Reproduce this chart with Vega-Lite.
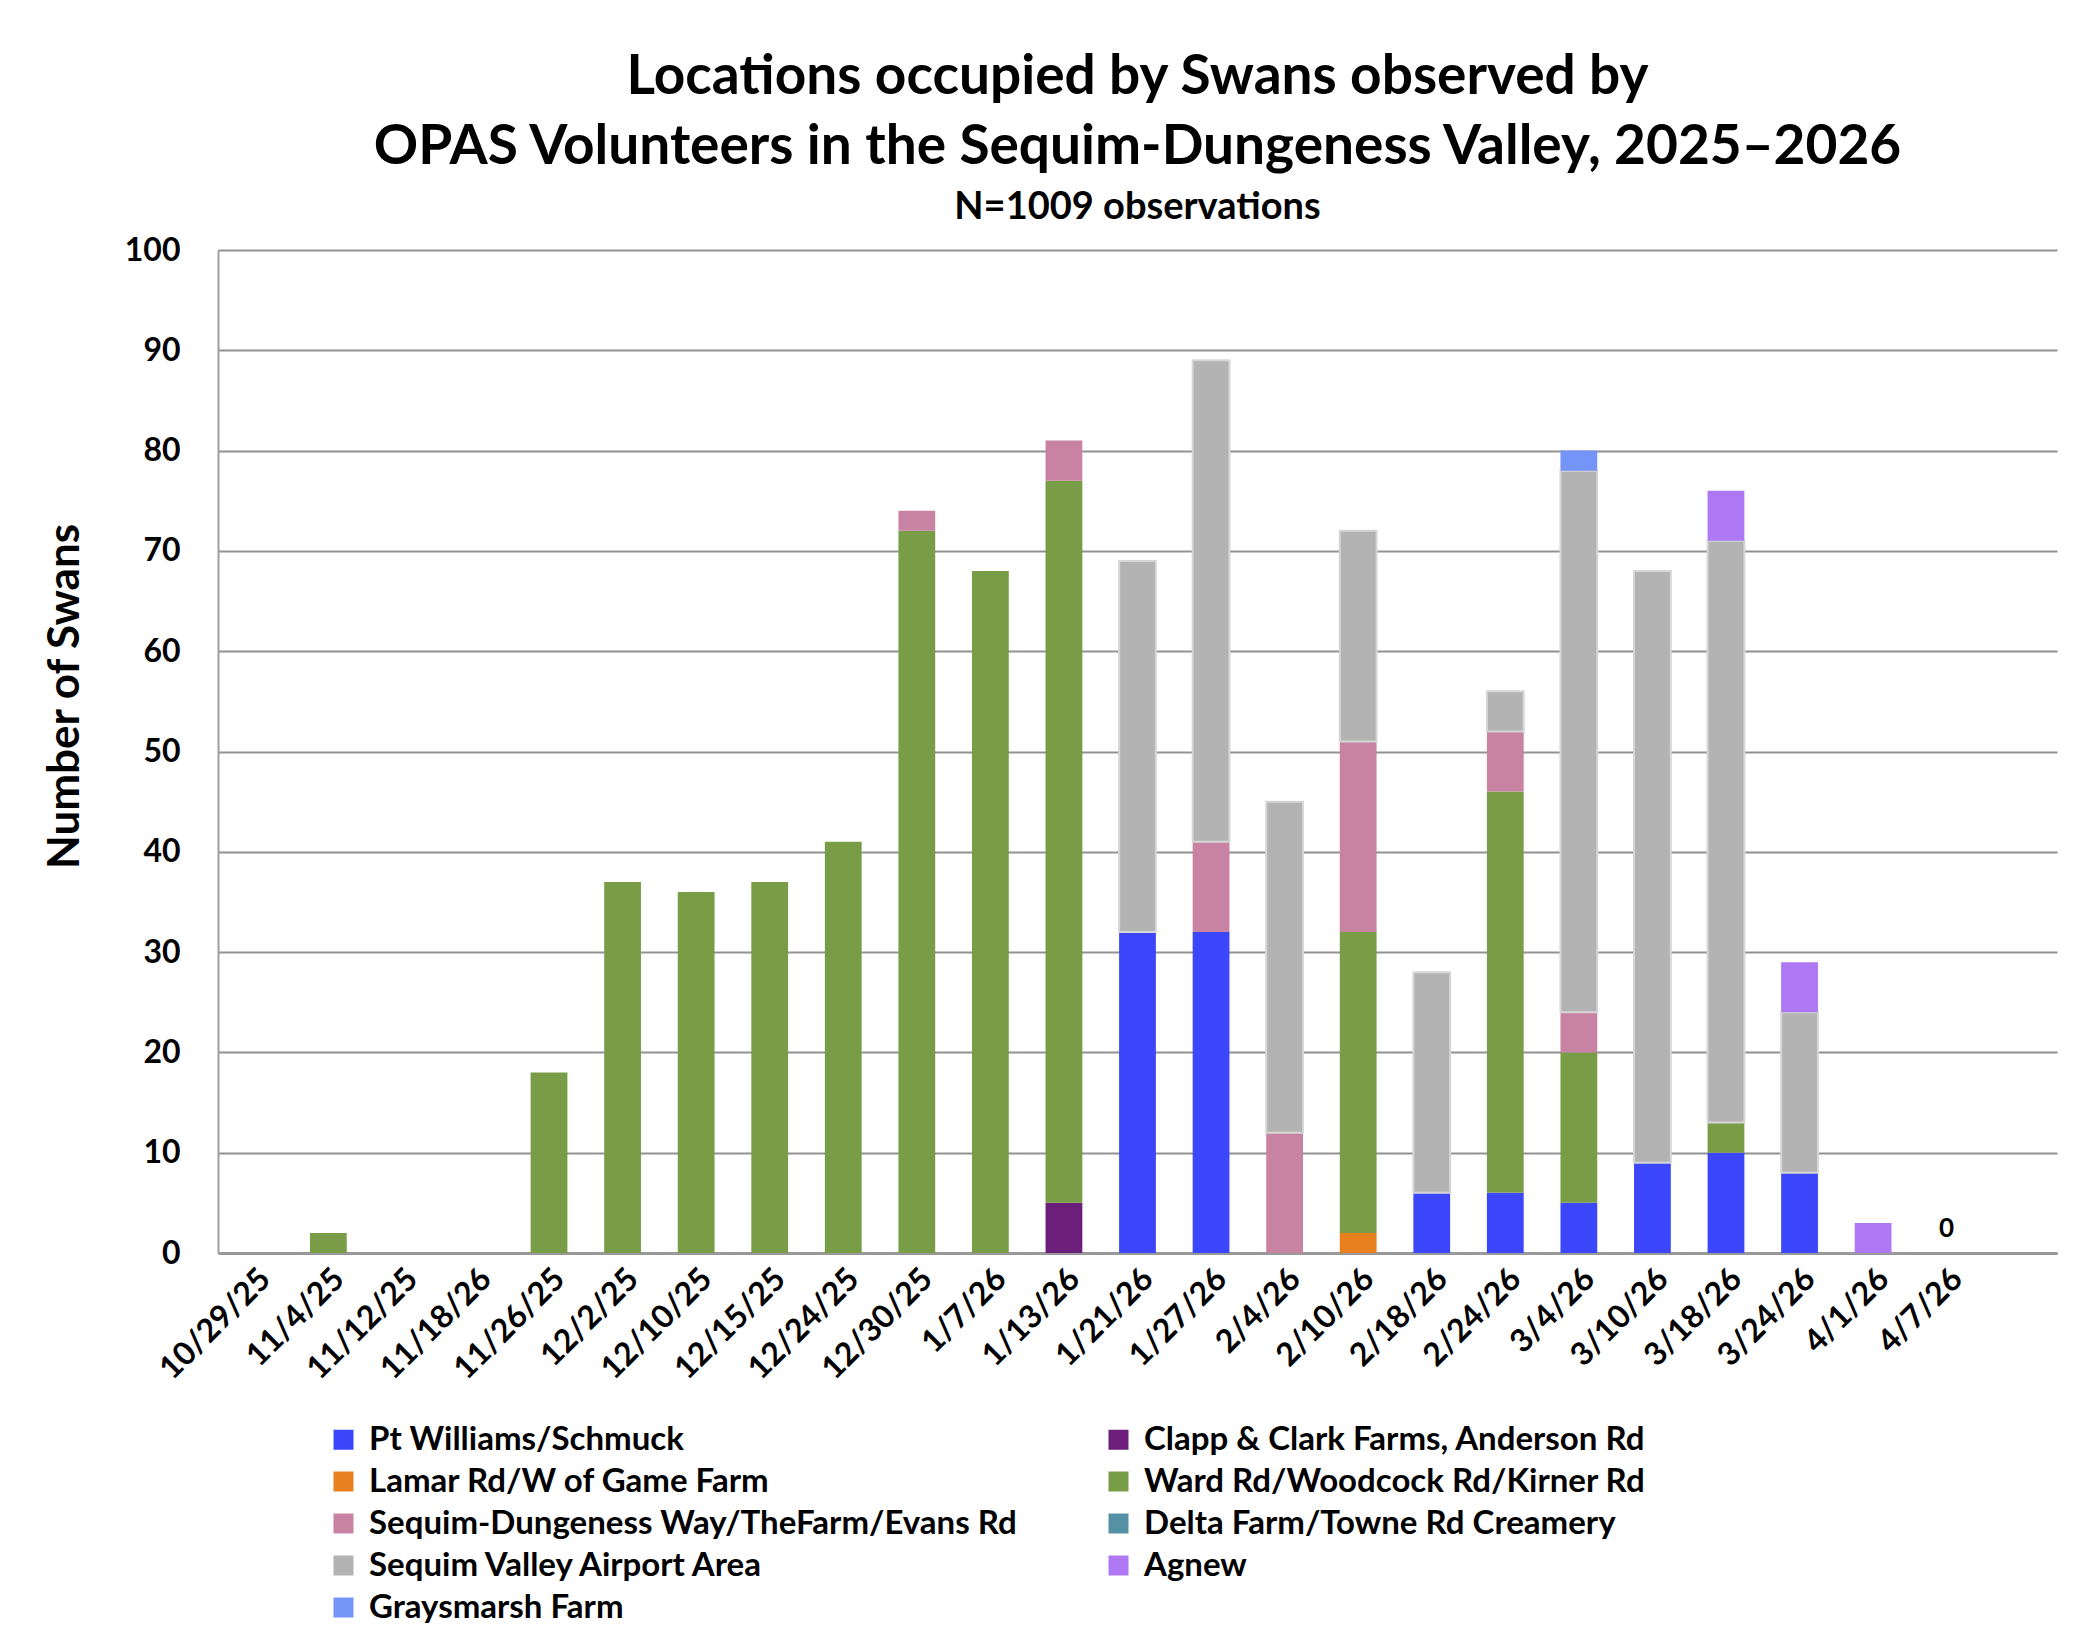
{
  "$schema": "https://vega.github.io/schema/vega-lite/v6.json",
  "autosize": "none",
  "width": 1839,
  "height": 1003,
  "padding": {"left": 218, "top": 250, "right": 43, "bottom": 388},
  "background": "white",
  "title": {
    "text": ["Locations occupied by Swans observed by", "OPAS Volunteers in the Sequim-Dungeness Valley, 2025–2026"],
    "subtitle": "N=1009 observations",
    "anchor": "middle",
    "font": "Lato",
    "fontSize": 55,
    "fontWeight": "bold",
    "lineHeight": 70,
    "subtitleFont": "Lato",
    "subtitleFontSize": 38,
    "subtitleFontWeight": "bold",
    "subtitleColor": "black",
    "subtitlePadding": 13,
    "color": "black",
    "offset": 6
  },
  "data": {
    "values": [
      {"Date": "11/4/25", "Location": "Ward Rd/Woodcock Rd/Kirner Rd", "Count": 2},
      {"Date": "11/26/25", "Location": "Ward Rd/Woodcock Rd/Kirner Rd", "Count": 18},
      {"Date": "12/2/25", "Location": "Ward Rd/Woodcock Rd/Kirner Rd", "Count": 37},
      {"Date": "12/10/25", "Location": "Ward Rd/Woodcock Rd/Kirner Rd", "Count": 36},
      {"Date": "12/15/25", "Location": "Ward Rd/Woodcock Rd/Kirner Rd", "Count": 37},
      {"Date": "12/24/25", "Location": "Ward Rd/Woodcock Rd/Kirner Rd", "Count": 41},
      {"Date": "12/30/25", "Location": "Ward Rd/Woodcock Rd/Kirner Rd", "Count": 72},
      {"Date": "12/30/25", "Location": "Sequim-Dungeness Way/TheFarm/Evans Rd", "Count": 2},
      {"Date": "1/7/26", "Location": "Ward Rd/Woodcock Rd/Kirner Rd", "Count": 68},
      {"Date": "1/13/26", "Location": "Clapp & Clark Farms, Anderson Rd", "Count": 5},
      {"Date": "1/13/26", "Location": "Ward Rd/Woodcock Rd/Kirner Rd", "Count": 72},
      {"Date": "1/13/26", "Location": "Sequim-Dungeness Way/TheFarm/Evans Rd", "Count": 4},
      {"Date": "1/21/26", "Location": "Pt Williams/Schmuck", "Count": 32},
      {"Date": "1/21/26", "Location": "Sequim Valley Airport Area", "Count": 37},
      {"Date": "1/27/26", "Location": "Pt Williams/Schmuck", "Count": 32},
      {"Date": "1/27/26", "Location": "Sequim-Dungeness Way/TheFarm/Evans Rd", "Count": 9},
      {"Date": "1/27/26", "Location": "Sequim Valley Airport Area", "Count": 48},
      {"Date": "2/4/26", "Location": "Sequim-Dungeness Way/TheFarm/Evans Rd", "Count": 12},
      {"Date": "2/4/26", "Location": "Sequim Valley Airport Area", "Count": 33},
      {"Date": "2/10/26", "Location": "Lamar Rd/W of Game Farm", "Count": 2},
      {"Date": "2/10/26", "Location": "Ward Rd/Woodcock Rd/Kirner Rd", "Count": 30},
      {"Date": "2/10/26", "Location": "Sequim-Dungeness Way/TheFarm/Evans Rd", "Count": 19},
      {"Date": "2/10/26", "Location": "Sequim Valley Airport Area", "Count": 21},
      {"Date": "2/18/26", "Location": "Pt Williams/Schmuck", "Count": 6},
      {"Date": "2/18/26", "Location": "Sequim Valley Airport Area", "Count": 22},
      {"Date": "2/24/26", "Location": "Pt Williams/Schmuck", "Count": 6},
      {"Date": "2/24/26", "Location": "Ward Rd/Woodcock Rd/Kirner Rd", "Count": 40},
      {"Date": "2/24/26", "Location": "Sequim-Dungeness Way/TheFarm/Evans Rd", "Count": 6},
      {"Date": "2/24/26", "Location": "Sequim Valley Airport Area", "Count": 4},
      {"Date": "3/4/26", "Location": "Pt Williams/Schmuck", "Count": 5},
      {"Date": "3/4/26", "Location": "Ward Rd/Woodcock Rd/Kirner Rd", "Count": 15},
      {"Date": "3/4/26", "Location": "Sequim-Dungeness Way/TheFarm/Evans Rd", "Count": 4},
      {"Date": "3/4/26", "Location": "Sequim Valley Airport Area", "Count": 54},
      {"Date": "3/4/26", "Location": "Graysmarsh Farm", "Count": 2},
      {"Date": "3/10/26", "Location": "Pt Williams/Schmuck", "Count": 9},
      {"Date": "3/10/26", "Location": "Sequim Valley Airport Area", "Count": 59},
      {"Date": "3/18/26", "Location": "Pt Williams/Schmuck", "Count": 10},
      {"Date": "3/18/26", "Location": "Ward Rd/Woodcock Rd/Kirner Rd", "Count": 3},
      {"Date": "3/18/26", "Location": "Sequim Valley Airport Area", "Count": 58},
      {"Date": "3/18/26", "Location": "Agnew", "Count": 5},
      {"Date": "3/24/26", "Location": "Pt Williams/Schmuck", "Count": 8},
      {"Date": "3/24/26", "Location": "Sequim Valley Airport Area", "Count": 16},
      {"Date": "3/24/26", "Location": "Agnew", "Count": 5},
      {"Date": "4/1/26", "Location": "Agnew", "Count": 3}
    ]
  },
  "encoding": {
    "x": {
      "field": "Date",
      "type": "nominal",
      "scale": {
        "domain": ["10/29/25", "11/4/25", "11/12/25", "11/18/26", "11/26/25", "12/2/25", "12/10/25", "12/15/25", "12/24/25", "12/30/25", "1/7/26", "1/13/26", "1/21/26", "1/27/26", "2/4/26", "2/10/26", "2/18/26", "2/24/26", "3/4/26", "3/10/26", "3/18/26", "3/24/26", "4/1/26", "4/7/26", " "],
        "paddingInner": 0.5,
        "paddingOuter": 0.25
      },
      "axis": {
        "title": null,
        "labelAngle": -45,
        "labelAlign": "right",
        "labelBaseline": "top",
        "labelFont": "Lato",
        "labelFontSize": 32,
        "labelFontWeight": "bold",
        "labelColor": "black",
        "labelPadding": 10,
        "ticks": false,
        "grid": false,
        "domainColor": "#999999",
        "domainWidth": 3
      }
    },
    "y": {
      "field": "Count",
      "type": "quantitative",
      "stack": "zero",
      "scale": {"domain": [0, 100], "nice": false},
      "axis": {
        "title": "Number of Swans",
        "titleFont": "Lato",
        "titleFontSize": 44,
        "titleFontWeight": "bold",
        "titleColor": "black",
        "titleX": -131,
        "titleY": 446,
        "values": [0, 10, 20, 30, 40, 50, 60, 70, 80, 90, 100],
        "labelFont": "Lato",
        "labelFontSize": 32,
        "labelFontWeight": "bold",
        "labelColor": "black",
        "labelPadding": 38,
        "ticks": false,
        "gridColor": "#929292",
        "gridWidth": 2,
        "domainColor": "#a0a0a0",
        "domainWidth": 2
      }
    }
  },
  "layer": [
    {
      "transform": [
        {"calculate": "indexof(['Pt Williams/Schmuck', 'Clapp & Clark Farms, Anderson Rd', 'Lamar Rd/W of Game Farm', 'Ward Rd/Woodcock Rd/Kirner Rd', 'Sequim-Dungeness Way/TheFarm/Evans Rd', 'Delta Farm/Towne Rd Creamery', 'Sequim Valley Airport Area', 'Agnew', 'Graysmarsh Farm'], datum.Location)", "as": "StackOrder"}
      ],
      "mark": {"type": "bar"},
      "encoding": {
        "color": {
          "field": "Location",
          "type": "nominal",
          "sort": ["Pt Williams/Schmuck", "Clapp & Clark Farms, Anderson Rd", "Lamar Rd/W of Game Farm", "Ward Rd/Woodcock Rd/Kirner Rd", "Sequim-Dungeness Way/TheFarm/Evans Rd", "Delta Farm/Towne Rd Creamery", "Sequim Valley Airport Area", "Agnew", "Graysmarsh Farm"],
          "scale": {
            "domain": ["Pt Williams/Schmuck", "Clapp & Clark Farms, Anderson Rd", "Lamar Rd/W of Game Farm", "Ward Rd/Woodcock Rd/Kirner Rd", "Sequim-Dungeness Way/TheFarm/Evans Rd", "Delta Farm/Towne Rd Creamery", "Sequim Valley Airport Area", "Agnew", "Graysmarsh Farm"],
            "range": ["#3c46fb", "#6b1f7a", "#e8801f", "#789d46", "#c882a2", "#5591a5", "#b3b3b3", "#ae78f5", "#7594f7"]
          },
          "legend": {
            "title": null,
            "orient": "none",
            "legendX": 109,
            "legendY": 1173,
            "columns": 2,
            "direction": "horizontal",
            "columnPadding": 84,
            "rowPadding": 8,
            "symbolType": "square",
            "symbolSize": 400,
            "symbolStrokeWidth": 0,
            "symbolOffset": 0,
            "labelOffset": 9,
            "labelFont": "Lato",
            "labelFontSize": 33,
            "labelFontWeight": "bold",
            "labelColor": "black",
            "labelLimit": 900
          }
        },
        "order": {"field": "StackOrder", "type": "quantitative", "sort": "ascending"},
        "stroke": {
          "condition": {"test": "datum.Location == 'Sequim Valley Airport Area'", "value": "#d6d6d6"},
          "value": null
        },
        "strokeWidth": {
          "condition": {"test": "datum.Location == 'Sequim Valley Airport Area'", "value": 2},
          "value": 0
        }
      }
    },
    {
      "data": {"values": [{"Date": "4/7/26", "Count": 0, "Label": "0"}]},
      "mark": {"type": "text", "font": "Lato", "fontSize": 26, "fontWeight": "bold", "color": "black", "dy": -24},
      "encoding": {
        "text": {"field": "Label", "type": "nominal"}
      }
    }
  ],
  "config": {
    "view": {"stroke": null}
  }
}
